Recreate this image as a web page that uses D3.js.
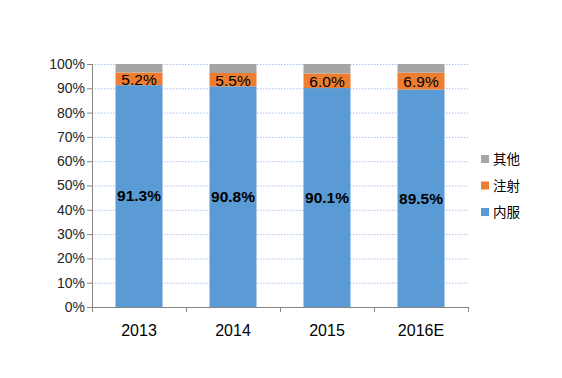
<!DOCTYPE html>
<html>
<head>
<meta charset="utf-8">
<script src="https://d3js.org/d3.v7.min.js"></script>
<style>
  body { margin: 0; background: #fff; }
  svg { font-family: "Liberation Sans", Arial, sans-serif; }
</style>
</head>
<body>
<svg id="chart" width="562" height="378"></svg>
<script>
"use strict";

var years = ["2013", "2014", "2015", "2016E"];
var oral = [91.3, 90.8, 90.1, 89.5];
var injection = [5.2, 5.5, 6.0, 6.9];
var other = [3.5, 3.7, 3.9, 3.6];
var yTicks = [0, 10, 20, 30, 40, 50, 60, 70, 80, 90, 100];

var seriesNames = ["内服", "注射", "其他"];
var seriesColors = ["#5B9BD5", "#ED7D31", "#A5A5A5"];

var svg = d3.select("#chart");
var margin = { left: 92, right: 94, top: 64, bottom: 71 };
var w = 562 - margin.left - margin.right;
var h = 378 - margin.top - margin.bottom;

var x = d3.scaleBand().domain(years).range([0, w]).paddingInner(0.5).paddingOuter(0.25);
var y = d3.scaleLinear().domain([0, 100]).range([h, 0]);

var g = svg.append("g").attr("transform", "translate(" + margin.left + "," + margin.top + ")");

// gridlines
g.append("g").selectAll("line")
    .data(yTicks.filter(function(d) { return d > 0; }))
    .enter().append("line")
      .attr("x1", 0).attr("x2", w)
      .attr("y1", function(d) { return y(d) + 0.5; })
      .attr("y2", function(d) { return y(d) + 0.5; })
      .attr("stroke", "#a9c4e6")
      .attr("stroke-dasharray", "1.5,1.5");

// stacked data
var rows = years.map(function(yr, i) {
    return { year: yr, "内服": oral[i], "注射": injection[i], "其他": other[i] };
});
var stacked = d3.stack().keys(seriesNames)(rows);

g.append("g").selectAll("g")
    .data(stacked)
    .enter().append("g")
      .attr("fill", function(d, i) { return seriesColors[i]; })
    .selectAll("rect")
    .data(function(d) { return d; })
    .enter().append("rect")
      .attr("x", function(d) { return x(d.data.year); })
      .attr("width", x.bandwidth())
      .attr("y", function(d) { return y(d[1]); })
      .attr("height", function(d) { return y(d[0]) - y(d[1]); });

// axes
var yAxis = d3.axisLeft(y).tickValues(yTicks).tickSize(5).tickFormat(function(d) { return d + "%"; });
var ya = g.append("g").call(yAxis);
ya.select(".domain").attr("stroke", "#868686").attr("d", "M0.5," + h + "V0");
ya.selectAll(".tick line").attr("stroke", "#868686");
ya.selectAll(".tick text").attr("font-size", "14px").attr("fill", "#262626").attr("x", -7);

var xa = g.append("g").attr("transform", "translate(0," + h + ")");
xa.append("line").attr("x1", 0).attr("x2", w).attr("y1", 0.5).attr("y2", 0.5).attr("stroke", "#868686");
xa.selectAll("line.tk")
    .data(d3.range(years.length + 1))
    .enter().append("line")
      .attr("class", "tk")
      .attr("x1", function(i) { return Math.round(i * w / years.length) + 0.5; })
      .attr("x2", function(i) { return Math.round(i * w / years.length) + 0.5; })
      .attr("y1", 0).attr("y2", 5)
      .attr("stroke", "#868686");
xa.selectAll("text")
    .data(years)
    .enter().append("text")
      .attr("x", function(d) { return x(d) + x.bandwidth() / 2; })
      .attr("y", 29)
      .attr("text-anchor", "middle")
      .attr("font-size", "16px")
      .attr("fill", "#000")
      .text(function(d) { return d; });

// labels
g.append("g").selectAll("text")
    .data(stacked[0])
    .enter().append("text")
      .attr("x", function(d) { return x(d.data.year) + x.bandwidth() / 2; })
      .attr("y", function(d) { return y((d[0] + d[1]) / 2); })
      .attr("dy", "0.35em")
      .attr("text-anchor", "middle")
      .attr("font-size", "15.5px")
      .attr("font-weight", "bold")
      .text(function(d) { return d.data["内服"].toFixed(1) + "%"; });

g.append("g").selectAll("text")
    .data(stacked[1])
    .enter().append("text")
      .attr("x", function(d) { return x(d.data.year) + x.bandwidth() / 2; })
      .attr("y", function(d) { return y((d[0] + d[1]) / 2); })
      .attr("dy", "0.38em")
      .attr("text-anchor", "middle")
      .attr("font-size", "15.5px")
      .text(function(d) { return d.data["注射"].toFixed(1) + "%"; });

// legend
var legendOrder = [2, 1, 0];
var legend = svg.append("g").attr("transform", "translate(481,155)");
legendOrder.forEach(function(si, k) {
    var row = legend.append("g").attr("transform", "translate(0," + (k * 26.5) + ")");
    row.append("rect").attr("width", 8).attr("height", 8).attr("fill", seriesColors[si]);
    row.append("text").attr("x", 12).attr("y", 4).attr("dy", "0.38em")
        .attr("font-size", "13.5px")
        .attr("font-family", "'Noto Sans CJK SC', sans-serif")
        .attr("fill", "#000")
        .text(seriesNames[si]);
});
</script>
</body>
</html>
